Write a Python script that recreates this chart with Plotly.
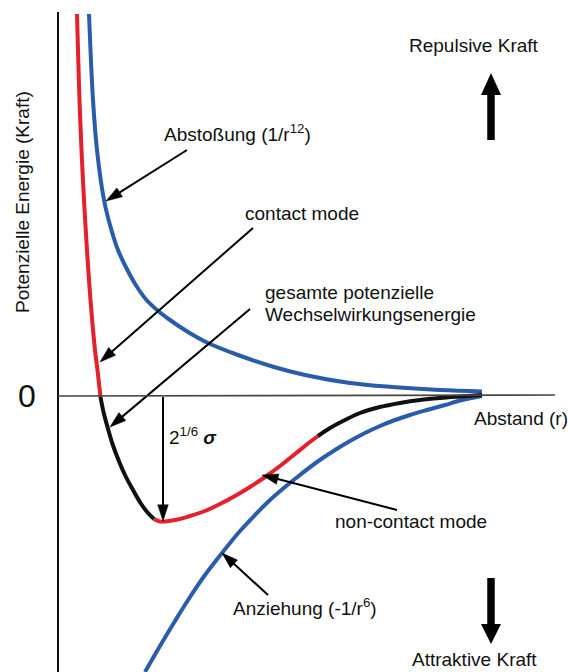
import plotly.graph_objects as go

# Coordinate system: r = horizontal distance units, E = energy units (0 at the zero line)
ZERO_PX = 396

# Total potential, repulsive-wall branch (red, contact mode)
tot_contact_r = [77, 78, 79.5, 81.5, 84, 87, 90.5, 95, 97.5, 100.5]
tot_contact_py = [14, 50, 100, 150, 200, 250, 300, 350, 370, 397]
# Total potential, steep part below zero (black)
tot_black1_r = [100.5, 103.5, 107.5, 112.5, 118.5, 125, 133, 140.5, 148, 154]
tot_black1_py = [397, 412, 427, 444, 460, 475, 490, 503, 513, 519]
# Total potential around the minimum (red, non-contact mode)
tot_noncontact_r = [154, 160, 175, 190, 205, 220, 235, 250, 265, 280, 295, 310, 318]
tot_noncontact_py = [519, 521.5, 520, 516, 511, 504, 496, 487, 477, 466, 454, 442, 436]
# Total potential, tail (black)
tot_black2_r = [318, 330, 345, 360, 380, 400, 420, 440, 460, 482]
tot_black2_py = [436, 428, 420, 413, 407, 403, 400, 398, 396.5, 395]

# Repulsive term 1/r^12 (blue)
rep_r = [89, 90.5, 93, 97, 104, 110, 118, 130, 139, 146.5, 157, 170, 188, 208, 238, 274, 305, 350, 392, 440, 482]
rep_py = [14, 50, 100, 150, 200, 225, 250, 275, 290, 300, 310, 320, 332, 343, 355, 367, 375, 383, 387, 390, 391.5]

# Attractive term -1/r^6 (blue)
att_r = [145, 160, 175, 190, 205, 222, 240, 255, 270, 285, 300, 317, 335, 350, 365, 380, 395, 410, 427, 445, 462, 482]
att_py = [672, 646, 621, 597, 575, 553, 531, 515, 500, 487, 475, 462, 450, 441, 433, 426, 420, 415, 410, 405, 400, 396]


def E(pys):
    return [ZERO_PX - p for p in pys]


BLUE = "#2b5cab"
RED = "#e4202c"
BLACK = "#111111"
FONT = "Liberation Sans, Arial, sans-serif"

fig = go.Figure()


def add_line(r, py, color, width=4):
    fig.add_trace(go.Scatter(x=r, y=E(py), mode="lines",
                             line=dict(color=color, width=width, shape="spline", smoothing=1.0),
                             hoverinfo="skip", showlegend=False))


def arrow(tx, tpy, hx, hpy, width=2, size=17):
    fig.add_trace(go.Scatter(x=[tx, hx], y=[ZERO_PX - tpy, ZERO_PX - hpy], mode="lines+markers",
                             line=dict(color="#000", width=width),
                             marker=dict(symbol="arrow", size=[0, size], angleref="previous", color="#000",
                                         opacity=1, line=dict(width=0.5, color="#000")),
                             hoverinfo="skip", showlegend=False))


# axes lines
fig.add_shape(type="line", x0=58, x1=58, y0=ZERO_PX - 12, y1=ZERO_PX - 672, line=dict(color=BLACK, width=2))
fig.add_shape(type="line", x0=58, x1=555, y0=0, y1=1, line=dict(color="#4a4540", width=1.6))

add_line(rep_r, rep_py, BLUE)
add_line(att_r, att_py, BLUE)
add_line(tot_contact_r, tot_contact_py, RED)
add_line(tot_black1_r, tot_black1_py, BLACK)
add_line(tot_noncontact_r, tot_noncontact_py, RED)
add_line(tot_black2_r, tot_black2_py, BLACK)

arrow(187, 150, 106, 201)
arrow(253, 228, 100, 362)
arrow(250, 309, 110, 427)
arrow(397, 510, 262, 475)
arrow(268, 595, 222, 553)
arrow(163, 397, 163, 521)

ann = []


def text(x, py, s, size=19, xanchor="left", **kw):
    ann.append(dict(x=x, y=ZERO_PX - py, text=s, showarrow=False, xanchor=xanchor, yanchor="middle",
                    font=dict(family=FONT, size=size, color="#111"), **kw))


text(162, 133, "Abstoßung (1/r<sup>12</sup>)")
text(243, 213, "contact mode")
text(263, 292, "gesamte potenzielle")
text(263, 314, "Wechselwirkungsenergie")
text(333, 521, "non-contact mode")
text(231, 607, "Anziehung (-1/r<sup>6</sup>)")
text(472, 418, "Abstand (r)")
text(474, 45, "Repulsive Kraft", xanchor="center")
text(474, 659, "Attraktive Kraft", xanchor="center")
text(27, 396, "0", size=32, xanchor="center")
text(167, 436, "2<sup>1/6</sup> <b><i>σ</i></b>", size=19)

ann.append(dict(x=22, y=ZERO_PX - 202, text="Potenzielle Energie (Kraft)", showarrow=False, textangle=-90,
                xanchor="center", yanchor="middle", font=dict(family=FONT, size=19, color="#111")))

# Thick force arrows
fig.add_shape(type="line", x0=491, x1=491, y0=ZERO_PX - 140, y1=ZERO_PX - 94, line=dict(color="#000", width=7.5))
fig.add_shape(type="path", path=f"M 481 {ZERO_PX-95} L 501 {ZERO_PX-95} L 491 {ZERO_PX-73} Z",
              fillcolor="#000", line=dict(color="#000", width=0))
fig.add_shape(type="line", x0=491, x1=491, y0=ZERO_PX - 578, y1=ZERO_PX - 625, line=dict(color="#000", width=7.5))
fig.add_shape(type="path", path=f"M 481 {ZERO_PX-624} L 501 {ZERO_PX-624} L 491 {ZERO_PX-644} Z",
              fillcolor="#000", line=dict(color="#000", width=0))

fig.update_layout(
    width=568, height=672, margin=dict(l=0, r=0, t=0, b=0),
    paper_bgcolor="white", plot_bgcolor="white",
    xaxis=dict(range=[0, 568], visible=False, fixedrange=True),
    yaxis=dict(range=[ZERO_PX - 672, ZERO_PX], visible=False, fixedrange=True),
    annotations=ann, showlegend=False,
)
fig.write_html("out.html")
